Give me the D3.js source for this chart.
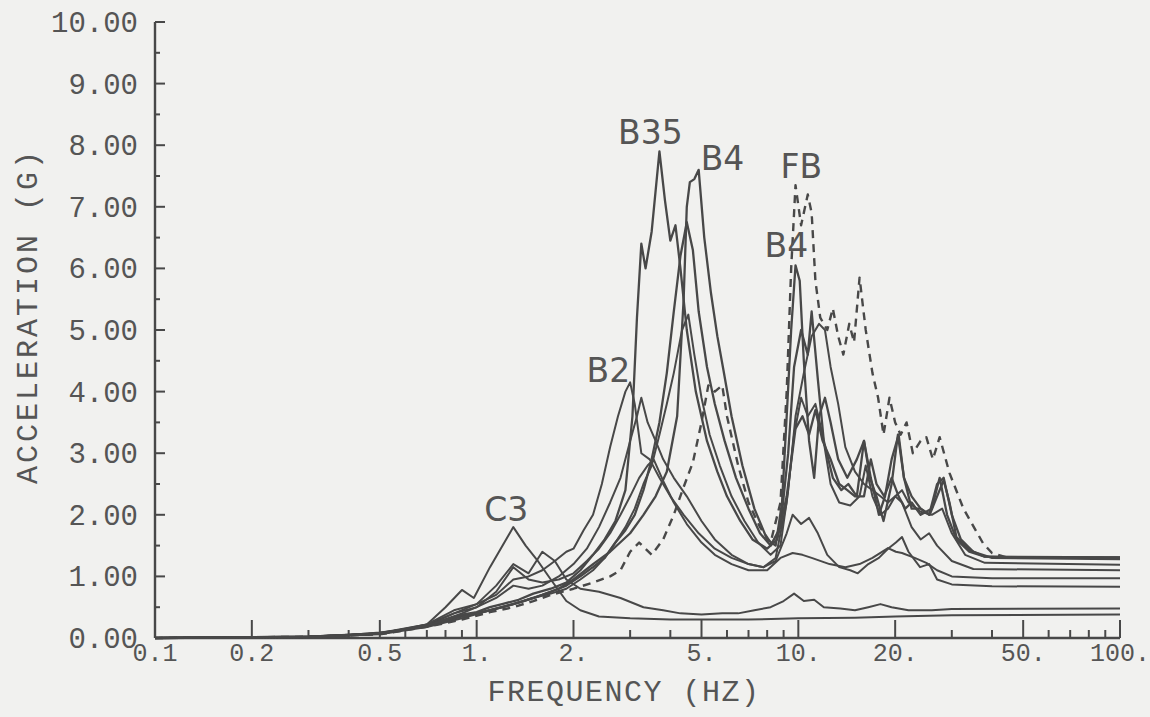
<!DOCTYPE html>
<html>
<head>
<meta charset="utf-8">
<script src="https://cdn.jsdelivr.net/npm/d3@7"></script>
<style>
  html, body { margin: 0; padding: 0; background: #f1f1ef; }
  svg { display: block; }
  .tick-label, .axis-title { font-family: "Liberation Mono", "DejaVu Sans Mono", monospace; fill: #555; }
  .peak-label { font-family: "DejaVu Sans", sans-serif; fill: #555; }
</style>
</head>
<body>
<svg id="chart" width="1150" height="717"></svg>
<script>
// Response spectra, acceleration (g) against frequency (Hz), one [freq, acc] list per curve.
const seriesB35 = [[0.1,0],[0.2,0.01],[0.3,0.02],[0.4,0.04],[0.5,0.08],[0.6,0.14],[0.7,0.2],[0.8,0.3],[0.9,0.38],[1.0,0.42],[1.1,0.5],[1.2,0.55],[1.35,0.62],[1.5,0.72],[1.7,0.8],[1.9,0.9],[2.1,1.1],[2.3,1.35],[2.5,1.6],[2.7,1.9],[2.9,2.4],[3.05,3.6],[3.15,5.2],[3.25,6.4],[3.35,6.0],[3.5,6.6],[3.7,7.9],[3.85,7.1],[4.0,6.45],[4.15,6.7],[4.3,6.0],[4.5,5.0],[4.8,4.0],[5.2,3.2],[5.6,2.7],[6.0,2.3],[6.6,1.9],[7.2,1.6],[8.0,1.45],[8.6,1.6],[9.2,2.3],[9.8,3.4],[10.3,3.6],[10.8,3.3],[11.3,3.7],[11.9,3.2],[12.6,2.9],[13.4,2.5],[14.2,2.4],[15,2.3],[16,2.3],[16.8,2.9],[17.5,2.5],[18.5,2.3],[19.5,2.6],[20.5,2.3],[21.5,2.1],[22.5,2.2],[24,2.0],[26,2.1],[27.5,2.6],[29,2.0],[31,1.6],[34,1.4],[38,1.32],[45,1.31],[100,1.31]];

const seriesB4 = [[0.1,0],[0.3,0.02],[0.5,0.07],[0.7,0.2],[0.9,0.35],[1.0,0.4],[1.2,0.5],[1.4,0.6],[1.6,0.7],[1.8,0.8],[2.0,0.95],[2.3,1.2],[2.6,1.4],[3.0,1.7],[3.3,2.0],[3.6,2.3],[3.9,2.7],[4.2,3.6],[4.4,5.5],[4.5,7.0],[4.6,7.4],[4.75,7.45],[4.9,7.6],[5.1,6.5],[5.35,5.6],[5.6,4.9],[5.85,4.35],[6.2,3.6],[6.7,2.8],[7.3,2.1],[8.0,1.6],[8.5,1.5],[8.9,2.2],[9.2,3.6],[9.5,5.0],[9.8,6.05],[10.1,5.8],[10.4,4.5],[10.8,3.2],[11.2,2.6],[11.6,3.6],[12.1,3.9],[12.6,3.5],[13.3,2.9],[14.2,2.6],[15.2,2.9],[16,3.2],[16.8,2.6],[17.8,2.0],[18.6,2.3],[19.5,2.9],[20.5,3.3],[21.3,2.6],[22.5,2.3],[24,2.1],[25.5,2.0],[27,2.5],[28.3,2.6],[30,2.0],[32,1.6],[35,1.4],[40,1.3],[100,1.28]];

const seriesFB = [[0.1,0],[0.3,0.02],[0.5,0.06],[0.7,0.18],[0.9,0.3],[1.1,0.42],[1.3,0.5],[1.5,0.6],[1.7,0.7],[2.0,0.8],[2.3,0.9],[2.6,1.0],[2.8,1.1],[3.0,1.4],[3.2,1.55],[3.5,1.35],[3.8,1.6],[4.1,2.0],[4.4,2.45],[4.7,2.85],[5.0,3.5],[5.25,4.1],[5.5,4.0],[5.8,4.1],[6.0,3.6],[6.5,2.8],[7.0,2.2],[7.6,1.8],[8.2,1.55],[8.8,2.2],[9.2,4.0],[9.5,6.0],[9.8,7.35],[10.2,6.7],[10.7,7.2],[11.0,6.9],[11.3,5.8],[11.7,5.2],[12.3,5.0],[12.8,5.35],[13.3,4.9],[13.8,4.6],[14.4,5.1],[14.9,4.8],[15.5,5.85],[16.2,5.0],[17,4.3],[17.7,3.9],[18.4,3.3],[19.2,3.9],[20,3.5],[20.8,3.3],[21.7,3.5],[22.7,3.0],[24,3.2],[25,3.26],[26.2,2.9],[27.5,3.26],[29.5,2.68],[32.6,2.1],[37.5,1.54],[40,1.38],[45,1.3],[100,1.3]];

const seriesB2 = [[0.1,0],[0.3,0.02],[0.5,0.08],[0.7,0.22],[0.85,0.45],[1.0,0.55],[1.15,0.7],[1.3,0.95],[1.45,1.0],[1.6,1.1],[1.75,1.25],[1.9,1.4],[2.0,1.45],[2.15,1.75],[2.3,2.0],[2.45,2.5],[2.6,3.1],[2.75,3.6],[2.9,4.0],[3.0,4.15],[3.1,3.8],[3.25,3.0],[3.45,2.9],[3.7,2.6],[4.0,2.3],[4.4,2.0],[4.9,1.7],[5.5,1.45],[6.2,1.3],[7.0,1.2],[7.8,1.15],[8.5,1.25],[9.2,1.7],[9.6,2.0],[10.2,1.85],[10.8,1.95],[11.5,1.7],[12.3,1.35],[13.4,1.15],[14.5,1.1],[15.3,1.05],[16.5,1.2],[17.8,1.3],[19,1.45],[20.1,1.55],[21,1.64],[22,1.4],[23.9,1.15],[25.5,1.2],[27,0.95],[30,0.87],[40,0.84],[100,0.83]];

const seriesD1 = [[0.1,0],[0.3,0.02],[0.5,0.07],[0.7,0.2],[0.9,0.35],[1.1,0.45],[1.3,0.55],[1.5,0.65],[1.7,0.75],[1.9,0.85],[2.1,1.0],[2.3,1.15],[2.5,1.3],[2.7,1.55],[2.9,1.75],[3.1,2.0],[3.3,2.4],[3.5,2.9],[3.7,3.5],[3.9,4.3],[4.1,5.3],[4.3,6.2],[4.5,6.75],[4.7,6.3],[4.9,5.3],[5.2,4.4],[5.5,3.8],[5.9,3.2],[6.4,2.6],[7.0,2.1],[7.6,1.7],[8.2,1.5],[8.8,1.8],[9.3,3.0],[9.7,4.4],[10.2,5.0],[10.7,4.6],[11.0,5.3],[11.5,4.2],[12,3.2],[12.8,2.6],[13.6,2.4],[14.3,2.5],[15.2,2.3],[16,3.2],[16.7,2.6],[17.5,2.3],[18.4,1.9],[19.5,2.5],[20.4,3.3],[21.3,2.6],[22.5,2.1],[24,2.1],[25.6,2.0],[27,2.3],[28.3,2.56],[29.5,2.2],[31,1.64],[34,1.43],[38,1.32],[100,1.31]];

const seriesD2 = [[0.1,0],[0.3,0.02],[0.5,0.06],[0.7,0.18],[0.9,0.32],[1.1,0.45],[1.3,0.55],[1.5,0.65],[1.7,0.72],[1.9,0.8],[2.1,0.95],[2.3,1.1],[2.5,1.3],[2.7,1.55],[2.9,1.8],[3.1,2.1],[3.3,2.5],[3.5,2.8],[3.7,3.3],[3.9,3.8],[4.1,4.3],[4.35,5.0],[4.55,5.25],[4.75,4.6],[5.0,3.9],[5.3,3.3],[5.7,2.8],[6.2,2.3],[6.8,1.9],[7.5,1.55],[8.2,1.35],[8.8,1.5],[9.3,2.4],[9.8,3.6],[10.4,4.3],[11.0,4.9],[11.6,5.1],[12.1,5.0],[12.6,4.4],[13.3,3.8],[14,3.1],[15,2.7],[16,2.5],[17,2.4],[18,2.3],[19,2.2],[20,2.3],[21,2.4],[22,2.2],[24,2.05],[26,2.0],[28,2.1],[30,1.7],[33,1.35],[38,1.22],[100,1.19]];

const seriesD3 = [[0.1,0],[0.3,0.02],[0.5,0.07],[0.7,0.2],[0.9,0.4],[1.0,0.5],[1.15,0.65],[1.3,0.85],[1.45,0.8],[1.6,0.85],[1.8,1.0],[2.0,1.2],[2.2,1.45],[2.4,1.8],[2.6,2.2],[2.8,2.6],[3.0,3.2],[3.15,3.6],[3.25,3.9],[3.4,3.5],[3.6,3.2],[3.8,2.9],[4.1,2.6],[4.5,2.3],[5,1.9],[5.5,1.6],[6.2,1.35],[7,1.2],[7.8,1.15],[8.5,1.3],[9.2,2.2],[9.7,3.3],[10.2,3.9],[10.7,3.6],[11.3,3.8],[11.9,3.3],[12.6,2.5],[13.4,2.2],[14.5,2.15],[15.5,2.3],[16.2,2.8],[17,2.3],[18,2.0],[19,2.1],[20,2.3],[21,2.2],[22.5,1.8],[24,1.6],[25.5,1.7],[27,1.5],[30,1.25],[35,1.12],[100,1.1]];

const seriesD4 = [[0.1,0],[0.3,0.02],[0.5,0.07],[0.7,0.22],[0.85,0.4],[1.0,0.5],[1.15,0.75],[1.3,1.15],[1.45,0.95],[1.6,0.9],[1.8,0.95],[2.0,1.05],[2.2,1.25],[2.4,1.45],[2.6,1.7],[2.8,2.0],[3.0,2.3],[3.2,2.6],[3.4,2.8],[3.55,2.9],[3.8,2.55],[4.1,2.2],[4.5,1.85],[5,1.55],[5.5,1.35],[6.2,1.2],[7,1.1],[8,1.1],[8.8,1.3],[9.6,1.38],[10.3,1.35],[11,1.3],[12.5,1.2],[14,1.15],[15.5,1.2],[17,1.3],[19,1.46],[20.1,1.4],[21,1.38],[23,1.3],[25,1.22],[27,1.1],[30,1.0],[40,0.97],[100,0.97]];

const seriesLow = [[0.1,0],[0.3,0.02],[0.5,0.07],[0.7,0.2],[0.85,0.4],[1.0,0.55],[1.15,0.85],[1.3,1.2],[1.45,1.05],[1.6,1.4],[1.75,1.25],[1.9,0.95],[2.1,0.8],[2.4,0.75],[2.8,0.65],[3.3,0.5],[3.8,0.45],[4.3,0.4],[5,0.38],[5.8,0.4],[6.5,0.4],[7.3,0.45],[8.2,0.5],[9,0.6],[9.7,0.72],[10.4,0.6],[11.2,0.62],[12,0.5],[13.5,0.48],[15,0.45],[16.5,0.5],[18,0.55],[19.5,0.5],[22,0.45],[26,0.45],[30,0.47],[100,0.48]];

const seriesC3 = [[0.1,0],[0.2,0.01],[0.3,0.02],[0.4,0.05],[0.5,0.09],[0.6,0.14],[0.7,0.22],[0.8,0.5],[0.9,0.78],[0.98,0.65],[1.1,1.15],[1.3,1.8],[1.42,1.5],[1.54,1.27],[1.7,0.95],[1.9,0.6],[2.1,0.45],[2.4,0.35],[3,0.32],[4,0.3],[5,0.3],[7,0.3],[10,0.32],[15,0.33],[20,0.35],[30,0.37],[100,0.38]];

// Axis tick values and their printed labels
const yTicks = [0, 1, 2, 3, 4, 5, 6, 7, 8, 9, 10];
const yTickLabels = ["0.00", "1.00", "2.00", "3.00", "4.00", "5.00", "6.00", "7.00", "8.00", "9.00", "10.00"];
const xTicks = [0.1, 0.2, 0.5, 1, 2, 5, 10, 20, 50, 100];
const xTickLabels = ["0.1", "0.2", "0.5", "1.", "2.", "5.", "10.", "20.", "50.", "100."];

// Curve names printed beside their peaks
const peakNames = ["B35", "B4", "FB", "B4", "B2", "C3"];
const peakPoints = [[3.7, 7.9], [4.9, 7.6], [9.8, 7.35], [9.8, 6.05], [3.0, 4.15], [1.3, 1.8]];

const svg = d3.select("#chart");
const x = d3.scaleLog().domain([0.1, 100]).range([155, 1120]);
const y = d3.scaleLinear().domain([0, 10]).range([638, 22]);

const ink = "#484848";

// ----- axes -----
const axes = svg.append("g").attr("stroke", ink).attr("fill", "none");
axes.append("line").attr("x1", x(0.1)).attr("x2", x(0.1)).attr("y1", y(0)).attr("y2", y(10)).attr("stroke-width", 2.4);
axes.append("line").attr("x1", x(0.1)).attr("x2", x(100)).attr("y1", y(0)).attr("y2", y(0)).attr("stroke-width", 2.4);

// y ticks every 0.5 g, pointing inward
const yMinor = d3.range(0.5, 10, 1);
axes.selectAll(".ymaj").data(yTicks.slice(1)).join("line")
  .attr("x1", x(0.1)).attr("x2", x(0.1) + 10)
  .attr("y1", d => y(d)).attr("y2", d => y(d)).attr("stroke-width", 2);
axes.selectAll(".ymin").data(yMinor).join("line")
  .attr("x1", x(0.1)).attr("x2", x(0.1) + 5)
  .attr("y1", d => y(d)).attr("y2", d => y(d)).attr("stroke-width", 2);

// x ticks at every integer multiple of each decade
const xAll = [];
[0.1, 1, 10].forEach(dec => { for (let k = 1; k <= 9; k++) xAll.push(+(dec * k).toFixed(3)); });
xAll.push(100);
axes.selectAll(".xt").data(xAll.filter(d => d > 0.1)).join("line")
  .attr("x1", d => x(d)).attr("x2", d => x(d))
  .attr("y1", y(0)).attr("y2", d => y(0) - (xTicks.includes(d) ? 18 : 8))
  .attr("stroke-width", 2);

// tick labels
svg.selectAll(".yl").data(yTicks).join("text")
  .attr("class", "tick-label")
  .attr("x", 138).attr("y", d => y(d) + 10)
  .attr("text-anchor", "end").attr("font-size", 29)
  .text((d, i) => yTickLabels[i]);

svg.selectAll(".xl").data(xTicks).join("text")
  .attr("class", "tick-label")
  .attr("x", d => x(d)).attr("y", 661)
  .attr("text-anchor", "middle").attr("font-size", 25)
  .text((d, i) => xTickLabels[i]);

svg.append("text").attr("class", "axis-title")
  .attr("transform", "translate(37,316) rotate(-90)")
  .attr("text-anchor", "middle").attr("font-size", 30)
  .attr("letter-spacing", 3)
  .text("ACCELERATION (G)");

svg.append("text").attr("class", "axis-title")
  .attr("x", 624).attr("y", 701)
  .attr("text-anchor", "middle").attr("font-size", 30)
  .attr("letter-spacing", 1.5)
  .text("FREQUENCY (HZ)");

// ----- curves -----
const curves = [
  { data: seriesC3, dashed: false, w: 2.0 },
  { data: seriesLow, dashed: false, w: 2.0 },
  { data: seriesD4, dashed: false, w: 2.0 },
  { data: seriesB2, dashed: false, w: 2.0 },
  { data: seriesD3, dashed: false, w: 2.0 },
  { data: seriesD2, dashed: false, w: 2.0 },
  { data: seriesD1, dashed: false, w: 2.3 },
  { data: seriesFB, dashed: true, w: 2.4 },
  { data: seriesB4, dashed: false, w: 2.3 },
  { data: seriesB35, dashed: false, w: 2.3 }
];

const line = d3.line().x(d => x(d[0])).y(d => y(d[1]));

svg.append("g").attr("fill", "none").attr("stroke-linejoin", "round")
  .selectAll("path").data(curves).join("path")
  .attr("d", c => line(c.data))
  .attr("stroke", ink)
  .attr("stroke-width", c => c.w)
  .attr("stroke-dasharray", c => c.dashed ? "8,6" : null);

// ----- peak names -----
const labelOffsets = [[-9, -7, "middle"], [2, 0, "start"], [-15, -7, "start"], [-31, -8, "start"], [0, 0, "end"], [-7, -6, "middle"]];
svg.selectAll(".pk").data(peakNames).join("text")
  .attr("class", "peak-label")
  .attr("font-size", 33)
  .attr("x", (d, i) => x(peakPoints[i][0]) + labelOffsets[i][0])
  .attr("y", (d, i) => y(peakPoints[i][1]) + labelOffsets[i][1])
  .attr("text-anchor", (d, i) => labelOffsets[i][2])
  .text(d => d);
</script>
</body>
</html>
